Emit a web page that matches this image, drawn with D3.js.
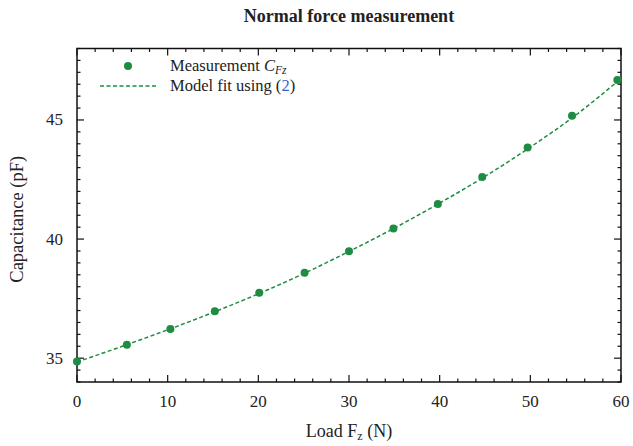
<!DOCTYPE html>
<html>
<head>
<meta charset="utf-8">
<script src="https://cdn.jsdelivr.net/npm/d3@7"></script>
<style>
  body { margin: 0; background: #fff; }
  text { font-family: 'Liberation Serif', 'Times New Roman', serif; fill: #222; }
</style>
</head>
<body>
<div id="chart"></div>
<script>
// Measurement data
const loadN = [0, 5.5, 10.3, 15.2, 20.1, 25.1, 30.0, 34.9, 39.8, 44.7, 49.7, 54.6, 59.6]
const capPF = [34.86, 35.56, 36.23, 36.97, 37.75, 38.59, 39.49, 40.44, 41.47, 42.61, 43.84, 45.18, 46.68]

// Model fit
const fitLoad = [0, 5, 10, 15, 20, 25, 30, 35, 40, 45, 50, 55, 60]
const fitCap = [34.84, 35.5, 36.19, 36.92, 37.7, 38.55, 39.48, 40.46, 41.51, 42.63, 43.86, 45.2, 46.74]

const xTicks = [0, 10, 20, 30, 40, 50, 60]
const yTicks = [35, 40, 45]

const W = 633
const H = 446
const m = { left: 77, right: 12, top: 48.5, bottom: 64 }
const green = '#1e8c42'

const svg = d3.select('#chart').append('svg')
  .attr('width', W)
  .attr('height', H)

const x = d3.scaleLinear().domain([0, 60]).range([m.left, W - m.right])
const y = d3.scaleLinear().domain([34, 48]).range([H - m.bottom, m.top])

// Ticks on all four sides, pointing inward
const minorX = d3.range(0, 60.01, 2)
const minorY = d3.range(34, 48.01, 0.5)
const major = 7
const minor = 3.5

const g = svg.append('g').attr('stroke', '#111').attr('stroke-width', 1.2)
minorX.forEach(v => {
  const len = v % 10 === 0 ? major : minor
  g.append('line').attr('x1', x(v)).attr('x2', x(v)).attr('y1', y(34)).attr('y2', y(34) - len)
  g.append('line').attr('x1', x(v)).attr('x2', x(v)).attr('y1', y(48)).attr('y2', y(48) + len)
})
minorY.forEach(v => {
  const len = v % 5 === 0 ? major : minor
  g.append('line').attr('x1', x(0)).attr('x2', x(0) + len).attr('y1', y(v)).attr('y2', y(v))
  g.append('line').attr('x1', x(60)).attr('x2', x(60) - len).attr('y1', y(v)).attr('y2', y(v))
})

// Frame
svg.append('rect')
  .attr('x', x(0)).attr('y', y(48))
  .attr('width', x(60) - x(0)).attr('height', y(34) - y(48))
  .attr('fill', 'none').attr('stroke', '#111').attr('stroke-width', 1.5)

// Tick labels
svg.selectAll('.xl').data(xTicks).enter().append('text')
  .attr('x', d => x(d)).attr('y', 407)
  .attr('text-anchor', 'middle').style('font-size', '17px')
  .text(d => d)
svg.selectAll('.yl').data(yTicks).enter().append('text')
  .attr('x', 63).attr('y', d => y(d) + 5.5)
  .attr('text-anchor', 'end').style('font-size', '17px')
  .text(d => d)

// Fit curve
const line = d3.line().x(d => x(d[0])).y(d => y(d[1])).curve(d3.curveMonotoneX)
svg.append('path')
  .datum(fitLoad.map((v, i) => [v, fitCap[i]]))
  .attr('d', line)
  .attr('fill', 'none').attr('stroke', green)
  .attr('stroke-width', 1.5).attr('stroke-dasharray', '4,2.5')

// Measurement points
svg.selectAll('circle.pt').data(loadN).enter().append('circle')
  .attr('class', 'pt')
  .attr('cx', d => x(d)).attr('cy', (d, i) => y(capPF[i]))
  .attr('r', 4).attr('fill', green)

// Title and axis labels
svg.append('text')
  .attr('x', (x(0) + x(60)) / 2).attr('y', 22)
  .attr('text-anchor', 'middle').style('font-size', '18px').style('font-weight', 'bold')
  .text('Normal force measurement')

const xl = svg.append('text')
  .attr('x', (x(0) + x(60)) / 2).attr('y', 437)
  .attr('text-anchor', 'middle').style('font-size', '18px')
xl.append('tspan').text('Load F')
xl.append('tspan').attr('dy', 3).style('font-size', '12px').text('z')
xl.append('tspan').attr('dy', -3).text(' (N)')

svg.append('text')
  .attr('transform', `translate(23, ${(y(34) + y(48)) / 2 + 4}) rotate(-90)`)
  .attr('text-anchor', 'middle').style('font-size', '18.5px')
  .text('Capacitance (pF)')

// Legend
svg.append('circle').attr('cx', 128).attr('cy', 66).attr('r', 4).attr('fill', green)
const l1 = svg.append('text').attr('x', 170).attr('y', 71).style('font-size', '16.5px')
l1.append('tspan').text('Measurement ')
l1.append('tspan').style('font-style', 'italic').text('C')
l1.append('tspan').attr('dy', 3).style('font-size', '11.5px').style('font-style', 'italic').text('Fz')

svg.append('line').attr('x1', 100).attr('x2', 158).attr('y1', 86).attr('y2', 86)
  .attr('stroke', green).attr('stroke-width', 1.5).attr('stroke-dasharray', '4,2.5')
const l2 = svg.append('text').attr('x', 170).attr('y', 91).style('font-size', '16.5px')
l2.append('tspan').text('Model fit using (')
l2.append('tspan').style('fill', '#3a5fcd').text('2')
l2.append('tspan').text(')')
</script>
</body>
</html>
